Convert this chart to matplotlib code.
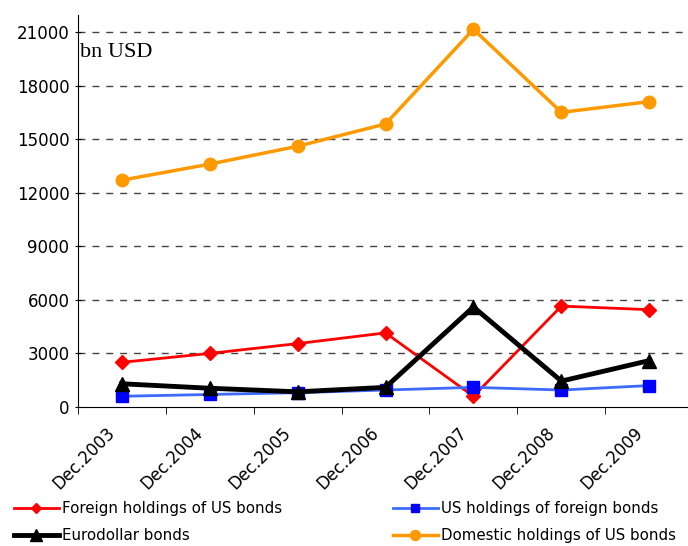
import matplotlib.pyplot as plt
import matplotlib.transforms as mtransforms
import numpy as np

# Data (bn USD)
periods = ['Dec.2003', 'Dec.2004', 'Dec.2005', 'Dec.2006', 'Dec.2007', 'Dec.2008', 'Dec.2009']
foreign_us = [2500, 3000, 3550, 4150, 600, 5650, 5450]
us_foreign = [600, 700, 800, 950, 1100, 950, 1200]
eurodollar = [1300, 1050, 850, 1100, 5600, 1450, 2600]
domestic_us = [12700, 13600, 14600, 15850, 21150, 16500, 17100]
yticks = [0, 3000, 6000, 9000, 12000, 15000, 18000, 21000]

x = np.arange(len(periods))

fig = plt.figure(figsize=(6.88, 5.46), dpi=100)
ax = fig.add_axes([0.113, 0.2546, 0.887, 0.7179])

ax.plot(x, foreign_us, color='#ff0000', lw=2, marker='D', ms=7,
        mfc='#ff0000', mec='#ff0000', label='Foreign holdings of US bonds', zorder=3)
ax.plot(x, us_foreign, color='#3d6bff', lw=2, marker='s', ms=8,
        mfc='#0000ff', mec='#0000ff', label='US holdings of foreign bonds', zorder=3)
ax.plot(x, eurodollar, color='black', lw=3.5, marker='^', ms=10,
        label='Eurodollar bonds', zorder=4)
ax.plot(x, domestic_us, color='#ff9900', lw=2.5, marker='o', ms=9,
        label='Domestic holdings of US bonds', zorder=3)

ax.set_xlim(-0.49, 6.44)
ax.set_ylim(0, 21950)
ax.set_yticks(yticks)
ax.set_yticklabels([str(v) for v in yticks], fontsize=12)
for v in yticks[1:]:
    ax.axhline(v, color='#444444', lw=1, ls=(0, (5, 5)), zorder=1)

# category labels centred, tick marks between categories
ax.set_xticks(x)
ax.set_xticklabels(periods, rotation=45, ha='right', rotation_mode='anchor', fontsize=12)
ax.tick_params(axis='x', length=0, pad=12)
shift = mtransforms.ScaledTranslation(-0.16, 0, fig.dpi_scale_trans)
for lab in ax.get_xticklabels():
    lab.set_transform(lab.get_transform() + shift)
ax.set_xticks(np.arange(-0.5, 6.5, 1), minor=True)
ax.tick_params(axis='x', which='minor', length=5, direction='out')
ax.tick_params(axis='y', length=5, direction='inout')

for s in ['top', 'right']:
    ax.spines[s].set_visible(False)

ax.text(0.003, 0.893, 'bn USD', transform=ax.transAxes, fontsize=16,
        family='Liberation Serif', va='baseline')

h, l = ax.get_legend_handles_labels()
order = [0, 2, 1, 3]
fig.legend([h[i] for i in order], [l[i] for i in order], ncol=2,
           loc='lower left', bbox_to_anchor=(0.0, -0.02), frameon=False,
           fontsize=10.8, handlelength=3.0, handletextpad=0.2,
           columnspacing=7.4, labelspacing=0.8, markerscale=0.8)

fig.savefig('out.png', dpi=100)
